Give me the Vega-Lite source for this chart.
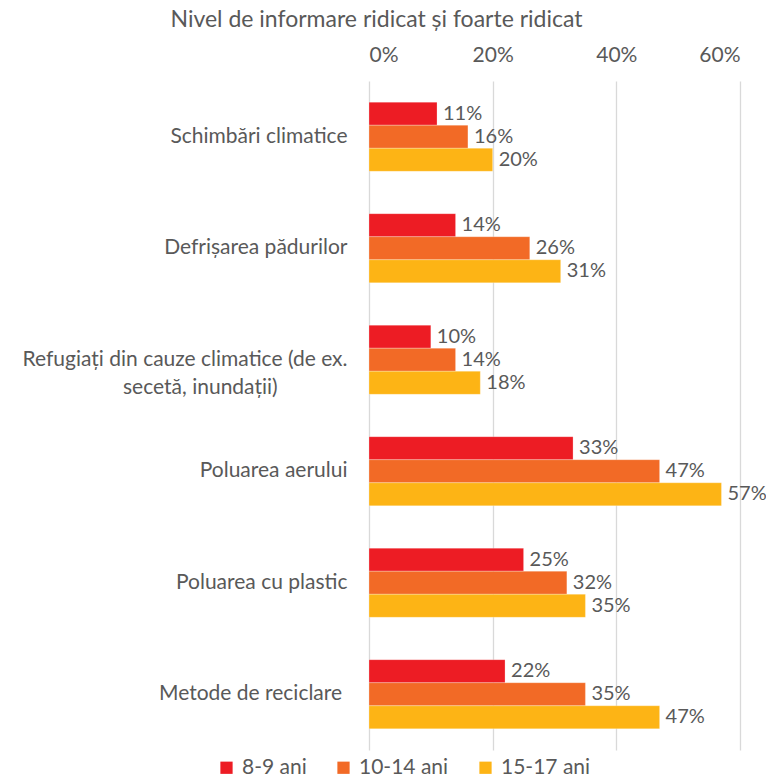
{
  "$schema": "https://vega.github.io/schema/vega-lite/v6.json",
  "autosize": {"type": "none"},
  "width": 371,
  "height": 669,
  "padding": {"left": 369, "top": 81, "right": 26, "bottom": 30},
  "background": "white",
  "config": {
    "font": "Lato",
    "view": {"stroke": null}
  },
  "title": {
    "text": "Nivel de informare ridicat și foarte ridicat",
    "font": "Lato",
    "fontSize": 23,
    "fontWeight": "normal",
    "color": "#595959",
    "anchor": "middle",
    "frame": "group",
    "dx": -178,
    "offset": 12
  },
  "data": {
    "values": [
      {"cat": "Schimbări climatice", "grp": "8-9 ani", "v": 0.11},
      {"cat": "Schimbări climatice", "grp": "10-14 ani", "v": 0.16},
      {"cat": "Schimbări climatice", "grp": "15-17 ani", "v": 0.20},
      {"cat": "Defrișarea pădurilor", "grp": "8-9 ani", "v": 0.14},
      {"cat": "Defrișarea pădurilor", "grp": "10-14 ani", "v": 0.26},
      {"cat": "Defrișarea pădurilor", "grp": "15-17 ani", "v": 0.31},
      {"cat": "Refugiați din cauze climatice (de ex. secetă, inundații)", "grp": "8-9 ani", "v": 0.10},
      {"cat": "Refugiați din cauze climatice (de ex. secetă, inundații)", "grp": "10-14 ani", "v": 0.14},
      {"cat": "Refugiați din cauze climatice (de ex. secetă, inundații)", "grp": "15-17 ani", "v": 0.18},
      {"cat": "Poluarea aerului", "grp": "8-9 ani", "v": 0.33},
      {"cat": "Poluarea aerului", "grp": "10-14 ani", "v": 0.47},
      {"cat": "Poluarea aerului", "grp": "15-17 ani", "v": 0.57},
      {"cat": "Poluarea cu plastic", "grp": "8-9 ani", "v": 0.25},
      {"cat": "Poluarea cu plastic", "grp": "10-14 ani", "v": 0.32},
      {"cat": "Poluarea cu plastic", "grp": "15-17 ani", "v": 0.35},
      {"cat": "Metode de reciclare", "grp": "8-9 ani", "v": 0.22},
      {"cat": "Metode de reciclare", "grp": "10-14 ani", "v": 0.35},
      {"cat": "Metode de reciclare", "grp": "15-17 ani", "v": 0.47}
    ]
  },
  "encoding": {
    "y": {
      "field": "cat",
      "type": "nominal",
      "sort": null,
      "scale": {"paddingInner": 0.38, "paddingOuter": 0.19},
      "axis": {
        "title": null,
        "ticks": false,
        "domain": false,
        "labelFontSize": 21,
        "labelColor": "#595959",
        "labelAlign": "right",
        "labelPadding": 22,
        "labelLimit": 400,
        "labelLineHeight": 28,
        "labelExpr": "datum.value == 'Refugiați din cauze climatice (de ex. secetă, inundații)' ? ['Refugiați din cauze climatice (de ex.', 'secetă, inundații)\u00a0\u00a0\u00a0\u00a0\u00a0\u00a0\u00a0\u00a0\u00a0\u00a0\u00a0\u00a0\u00a0\u200b'] : datum.value == 'Metode de reciclare' ? 'Metode de reciclare\u00a0\u200b' : datum.value"
      }
    },
    "yOffset": {
      "field": "grp",
      "type": "nominal",
      "sort": ["8-9 ani", "10-14 ani", "15-17 ani"],
      "scale": {"paddingInner": 0, "paddingOuter": 0}
    },
    "x": {
      "field": "v",
      "type": "quantitative",
      "scale": {"domain": [0, 0.6]},
      "axis": {
        "orient": "top",
        "title": null,
        "values": [0, 0.2, 0.4, 0.6],
        "format": ".0%",
        "labelFontSize": 21,
        "labelColor": "#595959",
        "labelPadding": 16,
        "ticks": false,
        "domain": false,
        "grid": true,
        "gridColor": "#d9d9d9",
        "gridWidth": 1.3
      }
    }
  },
  "layer": [
    {
      "mark": {"type": "bar", "stroke": "white", "strokeWidth": 0.5, "strokeOpacity": 0.5},
      "encoding": {
        "color": {
          "field": "grp",
          "type": "nominal",
          "sort": ["8-9 ani", "10-14 ani", "15-17 ani"],
          "scale": {"domain": ["8-9 ani", "10-14 ani", "15-17 ani"], "range": ["#ED1C24", "#F26A26", "#FDB415"]},
          "legend": {
            "title": null,
            "orient": "none",
            "direction": "horizontal",
            "legendX": -153,
            "legendY": 676,
            "symbolType": "square",
            "symbolSize": 150,
            "symbolStrokeWidth": 0,
            "labelFontSize": 21,
            "labelColor": "#595959",
            "labelOffset": 5,
            "columnPadding": 26
          }
        }
      }
    },
    {
      "mark": {"type": "text", "align": "left", "baseline": "middle", "dx": 6, "fontSize": 20, "color": "#595959"},
      "encoding": {
        "text": {"field": "v", "type": "quantitative", "format": ".0%"},
        "detail": {"field": "grp"}
      }
    }
  ]
}
